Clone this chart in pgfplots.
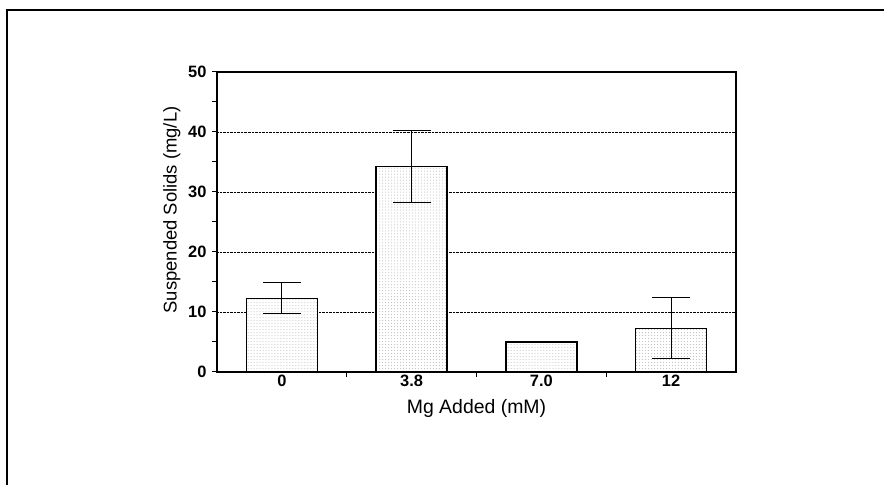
\documentclass[border=0pt]{standalone}
\usepackage{pgfplots}
\pgfplotsset{compat=1.18}
\usepackage{fontspec}
\setmainfont{Liberation Sans}
\usetikzlibrary{patterns}
\begin{document}
\begin{tikzpicture}[x=1bp,y=1bp]
\useasboundingbox (0,0) rectangle (884,485);
\draw[line width=2.5bp] (7,0) -- (7,475) -- (884,475);
\begin{axis}[
  at={(217bp,113bp)}, anchor=south west,
  width=519bp, height=300bp, scale only axis,
  xmin=-0.5, xmax=3.5, ymin=0, ymax=50,
  xtick={0,1,2,3}, xticklabels={0,3.8,7.0,12},
  minor xtick={0.5,1.5,2.5},
  major x tick style={draw=none},
  ytick={0,10,...,50}, minor ytick={5,15,...,45},
  tick pos=left, tick align=outside,
  major tick length=5bp, minor tick length=5bp,
  tick style={black, line width=1bp},
  axis line style={black, line width=1.3bp},
  ymajorgrids,
  major grid style={densely dotted, black, line width=0.9bp},
  /pgf/number format/assume math mode=true,
  ticklabel style={font=\fontsize{16.5}{17}\selectfont\bfseries},
  yticklabel style={xshift=-2bp},
  xticklabel style={yshift=5bp},
  xlabel={Mg Added (mM)},
  ylabel={Suspended Solids (mg/L)},
  xlabel style={font=\fontsize{19.5}{20}\selectfont, at={(axis description cs:0.5,-0.12)}, anchor=center},
  ylabel style={font=\fontsize{18.5}{19}\selectfont, at={(axis description cs:-0.087,0.54)}, anchor=center},
]
\addplot[ybar, bar width=71bp, bar shift=0pt, draw=black, line width=1.3bp,
  fill=white, postaction={pattern=dots, pattern color=gray!55}]
  coordinates {(0,12.3) (1,34.2) (2,5.0) (3,7.3)};
\addplot[ybar, bar width=71bp, bar shift=0pt, draw=none, fill=none, forget plot,
  error bars/.cd, y dir=both, y explicit,
  error bar style={draw=black, line width=1.2bp},
  error mark options={draw=black, rotate=90, mark size=19bp, line width=1.2bp}]
  coordinates {(0,12.3) +- (0,2.55) (1,34.2) +- (0,6.0) (2,5.0) +- (0,0) (3,7.3) +- (0,5.1)};
\end{axis}
\end{tikzpicture}
\end{document}
